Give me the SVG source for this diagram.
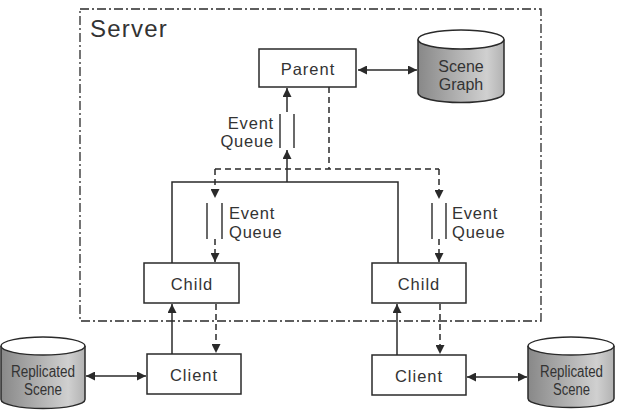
<svg xmlns="http://www.w3.org/2000/svg" width="619" height="414" viewBox="0 0 619 414">
  <style>
    .box { fill: #fff; stroke: #2a2a2a; stroke-width: 1.5; }
    .cyl { fill: url(#cylFill); stroke: #2a2a2a; stroke-width: 1.5; }
    .cyltop { fill: #fff; stroke: #2a2a2a; stroke-width: 1.5; }
    .ln { fill: none; stroke: #2a2a2a; stroke-width: 1.5; }
    .dash { fill: none; stroke: #2a2a2a; stroke-width: 1.5; stroke-dasharray: 6 4; }
    .bar { fill: none; stroke: #2a2a2a; stroke-width: 1.4; }
    .frame { fill: none; stroke: #2a2a2a; stroke-width: 1.3; stroke-dasharray: 9 3 2 3; }
    text { font-family: "Liberation Sans", Arial, sans-serif; fill: #333; }
    .lbl { font-size: 16.5px; letter-spacing: 0.8px; }
    .node { font-size: 16.5px; letter-spacing: 1px; text-anchor: middle; }
    .db { font-size: 16px; text-anchor: middle; }
  </style>
  <defs>
    <linearGradient id="cylFill" x1="0" y1="0" x2="1" y2="0">
      <stop offset="0" stop-color="#888"/>
      <stop offset="0.8" stop-color="#d0d0d0"/>
      <stop offset="1" stop-color="#b2b2b2"/>
    </linearGradient>
    <marker id="ah" viewBox="0 0 10 10" refX="10" refY="5" markerWidth="9" markerHeight="9" markerUnits="userSpaceOnUse" orient="auto-start-reverse">
      <path d="M0 0 L10 5 L0 10 z" fill="#2a2a2a"/>
    </marker>
  </defs>

  <!-- server boundary -->
  <g id="server">
    <rect class="frame" x="80" y="9" width="461" height="312"/>
    <text x="90" y="37" font-size="24" letter-spacing="1.2">Server</text>
  </g>

  <g id="parent">
    <rect class="box" x="259" y="49" width="97" height="38"/>
    <text class="node" x="308" y="75">Parent</text>
  </g>

  <g id="scene-graph">
    <path class="cyl" d="M418 39.5 V93 A43 9.5 0 0 0 504 93 V39.5"/>
    <ellipse class="cyltop" cx="461" cy="39.5" rx="43" ry="9.5"/>
    <text class="db" font-size="17" x="461" y="72">Scene</text>
    <text class="db" font-size="17" x="461" y="90">Graph</text>
  </g>

  <g id="child-left">
    <rect class="box" x="144" y="263" width="95" height="40"/>
    <text class="node" x="192" y="290">Child</text>
  </g>

  <g id="child-right">
    <rect class="box" x="372" y="263" width="94" height="40"/>
    <text class="node" x="419" y="290">Child</text>
  </g>

  <g id="client-left">
    <rect class="box" x="147" y="354" width="94" height="40"/>
    <text class="node" x="194" y="381">Client</text>
  </g>

  <g id="client-right">
    <rect class="box" x="372" y="355" width="94" height="40"/>
    <text class="node" x="419" y="382">Client</text>
  </g>

  <g id="replicated-left">
    <path class="cyl" d="M1 346 V399.5 A42 9 0 0 0 85 399.5 V346"/>
    <ellipse class="cyltop" cx="43" cy="346" rx="42" ry="9"/>
    <text class="db" x="43" y="377" textLength="64" lengthAdjust="spacingAndGlyphs">Replicated</text>
    <text class="db" x="43" y="395" textLength="38" lengthAdjust="spacingAndGlyphs">Scene</text>
  </g>

  <g id="replicated-right">
    <path class="cyl" d="M528 346 V398.5 A43 9 0 0 0 614 398.5 V346"/>
    <ellipse class="cyltop" cx="571" cy="346" rx="43" ry="9"/>
    <text class="db" x="571.5" y="377" textLength="63" lengthAdjust="spacingAndGlyphs">Replicated</text>
    <text class="db" x="571.5" y="395" textLength="37" lengthAdjust="spacingAndGlyphs">Scene</text>
  </g>

  <!-- event queue labels -->
  <g id="queue-parent">
    <line class="bar" x1="280" y1="114" x2="280" y2="148"/>
    <line class="bar" x1="294" y1="114" x2="294" y2="148"/>
    <text class="lbl" x="274" y="129" text-anchor="end">Event</text>
    <text class="lbl" x="274" y="147" text-anchor="end">Queue</text>
  </g>
  <g id="queue-left">
    <line class="bar" x1="207" y1="203" x2="207" y2="239"/>
    <line class="bar" x1="222" y1="203" x2="222" y2="239"/>
    <text class="lbl" x="229" y="219">Event</text>
    <text class="lbl" x="229" y="238">Queue</text>
  </g>
  <g id="queue-right">
    <line class="bar" x1="432" y1="203" x2="432" y2="239"/>
    <line class="bar" x1="446" y1="203" x2="446" y2="239"/>
    <text class="lbl" x="452" y="219">Event</text>
    <text class="lbl" x="452" y="238">Queue</text>
  </g>

  <g id="connectors">
    <line class="ln" x1="358" y1="70" x2="417" y2="70" marker-start="url(#ah)" marker-end="url(#ah)"/>
    <line class="ln" x1="287" y1="112" x2="287" y2="88" marker-end="url(#ah)"/>
    <line class="ln" x1="287" y1="182" x2="287" y2="150" marker-end="url(#ah)"/>
    <path class="ln" d="M172 263 V182 H398 V263"/>
    <path class="dash" d="M329 87 V169 M215 169 H439"/>
    <line class="dash" x1="215" y1="169" x2="215" y2="198" marker-end="url(#ah)"/>
    <line class="dash" x1="439" y1="169" x2="439" y2="199" marker-end="url(#ah)"/>
    <line class="dash" x1="215" y1="239" x2="215" y2="262" marker-end="url(#ah)"/>
    <line class="dash" x1="439" y1="239" x2="439" y2="262" marker-end="url(#ah)"/>
    <line class="ln" x1="172" y1="354" x2="172" y2="304" marker-end="url(#ah)"/>
    <line class="dash" x1="216" y1="304" x2="216" y2="353" marker-end="url(#ah)"/>
    <line class="ln" x1="397" y1="355" x2="397" y2="304" marker-end="url(#ah)"/>
    <line class="dash" x1="440" y1="304" x2="440" y2="354" marker-end="url(#ah)"/>
    <line class="ln" x1="86" y1="376" x2="146" y2="376" marker-start="url(#ah)" marker-end="url(#ah)"/>
    <line class="ln" x1="467" y1="377" x2="527" y2="377" marker-start="url(#ah)" marker-end="url(#ah)"/>
  </g>
</svg>
